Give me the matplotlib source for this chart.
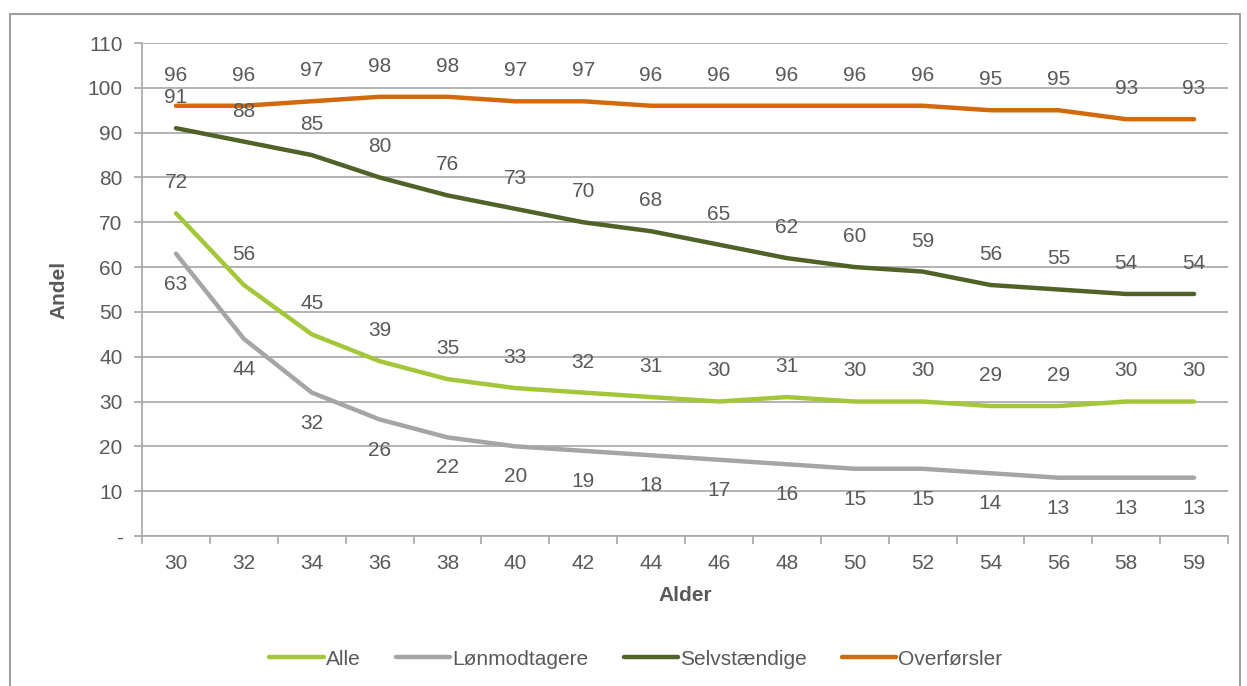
import numpy as np
import matplotlib
matplotlib.use('Agg')
from matplotlib import pyplot as plt
from matplotlib.patches import Rectangle

plt.rcParams['font.family'] = ['Liberation Sans', 'DejaVu Sans']

# data
ages = ['30', '32', '34', '36', '38', '40', '42', '44', '46', '48', '50', '52', '54', '56', '58', '59']
alle = [72, 56, 45, 39, 35, 33, 32, 31, 30, 31, 30, 30, 29, 29, 30, 30]
loen = [63, 44, 32, 26, 22, 20, 19, 18, 17, 16, 15, 15, 14, 13, 13, 13]
selv = [91, 88, 85, 80, 76, 73, 70, 68, 65, 62, 60, 59, 56, 55, 54, 54]
overf = [96, 96, 97, 98, 98, 97, 97, 96, 96, 96, 96, 96, 95, 95, 93, 93]

yticks = [0, 10, 20, 30, 40, 50, 60, 70, 80, 90, 100, 110]
ytick_labels = ['-', '10', '20', '30', '40', '50', '60', '70', '80', '90', '100', '110']

txt = '#595959'
gridc = '#A6A6A6'
fs = 15

fig = plt.figure(figsize=(12.47, 6.86), dpi=100)
ax = fig.add_axes([0.1139, 0.2187, 0.8709, 0.7186])

x = np.arange(len(ages))
series = [
    ('Alle', alle, '#A4C639', 1),
    ('Lønmodtagere', loen, '#A5A5A5', -1),
    ('Selvstændige', selv, '#4F6228', 1),
    ('Overførsler', overf, '#D2690B', 1),
]
for name, vals, col, side in series:
    ax.plot(x, vals, color=col, lw=3.2, label=name, solid_capstyle='round', zorder=3)
    for xi, v in zip(x, vals):
        ax.annotate(str(v), (xi, v), xytext=(0, 22 * side), textcoords='offset points',
                    ha='center', va='center', fontsize=fs, color=txt, zorder=4)

ax.set_xlim(-0.5, len(ages) - 0.5)
ax.set_ylim(0, 110)
ax.set_yticks(yticks)
ax.set_yticklabels(ytick_labels)
ax.set_xticks(np.arange(len(ages) + 1) - 0.5)
ax.set_xticklabels([])
ax.set_xticks(x, minor=True)
ax.set_xticklabels(ages, minor=True)
ax.tick_params(axis='x', which='major', length=6, color=gridc, width=1.2)
ax.tick_params(axis='x', which='minor', length=0, pad=13, labelsize=fs, labelcolor=txt)
ax.tick_params(axis='y', length=6, color=gridc, width=1.2, labelsize=fs, labelcolor=txt, pad=8)
ax.grid(axis='y', color=gridc, lw=1.2, zorder=0)
for s in ['top', 'right']:
    ax.spines[s].set_visible(False)
for s in ['left', 'bottom']:
    ax.spines[s].set_color(gridc)
    ax.spines[s].set_linewidth(1.2)

ax.set_ylabel('Andel', fontsize=fs, fontweight='bold', color=txt, labelpad=14)
ax.set_xlabel('Alder', fontsize=fs, fontweight='bold', color=txt, labelpad=9)

fig.legend(loc='center', bbox_to_anchor=(0.51, 0.039), ncol=4, frameon=False,
           fontsize=fs, labelcolor=txt, handlelength=2.6, handletextpad=0.1,
           columnspacing=1.7)

fig.patches.append(Rectangle((0.008, -0.01), 0.986, 0.99, transform=fig.transFigure,
                             fill=False, edgecolor='#A0A0A0', lw=1.5))

fig.savefig('out.png', dpi=100)
